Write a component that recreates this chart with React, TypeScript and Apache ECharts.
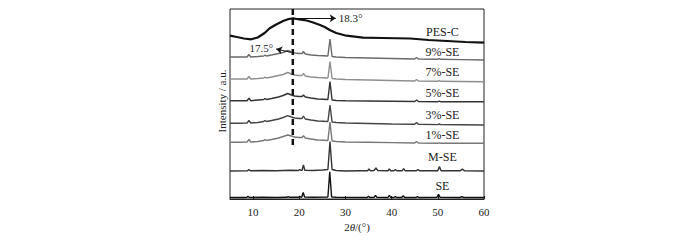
import React, { useEffect, useRef } from "react";
import * as echarts from "echarts";

// 2θ positions shared by the composite (x%-SE) patterns
const X_COMP = [5, 7, 8.7, 9.1, 9.5, 11, 12.3, 12.6, 12.9, 14, 15.5, 16.5, 17.5, 18.3, 19, 20, 20.6, 20.9, 21.3, 22.5, 24, 26.2, 26.65, 27.1, 28, 30, 35, 40, 45, 45.4, 45.8, 50, 50.3, 50.6, 55, 60];
const Y_9 = [142, 142, 142, 144.5, 142, 142.5, 143, 144, 143, 144, 145.5, 146.5, 148.5, 147, 146, 145.5, 145.5, 147.5, 145, 144, 143.5, 143, 160, 142.5, 142, 141.5, 141, 140.5, 140, 141.5, 140, 139.7, 140.3, 139.7, 139.4, 139];
const Y_7 = [120, 120, 120, 122.5, 120, 120.5, 121, 122, 121, 122, 123.5, 124.5, 126.5, 125, 124, 123.5, 123.5, 125.7, 123, 122, 121.5, 121, 137.3, 120.5, 120, 119.5, 119, 118.5, 118, 119.5, 118, 117.7, 118.3, 117.7, 117.5, 117.3];
const Y_5 = [98.3, 98.3, 98.3, 100.7, 98.3, 99, 99.5, 100.5, 99.5, 100.5, 102, 103.5, 105.5, 104, 103, 102.5, 102.5, 104, 102, 101, 100, 99.5, 117.3, 99, 98.5, 98.2, 98, 97.8, 97.5, 99, 97.5, 97.3, 97.8, 97.3, 97.3, 97.2];
const Y_3 = [75.7, 75.7, 76, 78.5, 76, 76.5, 77.5, 78.5, 77.5, 78.5, 80, 81.5, 83.3, 82, 81, 80.5, 80.5, 83, 80, 79, 78, 77.5, 94, 77, 76.5, 76, 75.5, 75, 74.7, 76.5, 74.7, 74.4, 75, 74.4, 74.2, 74];
const Y_1 = [56.7, 56.7, 57, 59.5, 57, 57.5, 58.5, 59.5, 58.5, 59.5, 61, 62.5, 64, 63, 62, 61.5, 61.5, 63.3, 61, 60, 59, 58.5, 77, 58, 57.5, 57, 56.7, 56.4, 56, 57.5, 56, 55.8, 56.2, 55.8, 55.7, 55.7];

// PES-C
const P_X = [5, 6.5, 8, 9.6, 11, 12.5, 13.6, 15, 16.5, 17.7, 18.7, 19.4, 20, 20.8, 21.6, 23, 24.5, 25.5, 26.6, 28, 30.2, 33.8, 38, 44, 48, 52, 56, 60];
const P_Y = [163.3, 162, 160.5, 159.7, 161.5, 166, 170.7, 174.5, 178, 180, 180.7, 180, 179.7, 179.2, 178.5, 176.5, 174, 172, 169, 166, 163.3, 161.3, 161, 160.5, 159, 158, 157, 156.3];

// M-SE
const M_X = [5, 8.8, 9.1, 9.4, 12, 15, 18, 19.8, 20.1, 20.4, 20.6, 20.9, 21.2, 23, 25, 26.2, 26.65, 27.1, 28, 30, 33, 34.8, 35.1, 35.4, 36.2, 36.6, 37, 39.2, 39.5, 39.8, 40.5, 40.8, 41.1, 42.3, 42.6, 42.9, 45.3, 45.7, 46.1, 50, 50.35, 50.7, 54.8, 55.3, 55.8, 60];
const M_Y = [28, 28.2, 29.5, 28.3, 28.5, 28.3, 28.8, 28.5, 29.5, 28.6, 28.8, 34, 28.8, 28.5, 29, 29.5, 57.5, 29.5, 28.5, 28, 28.2, 28.3, 30, 28.3, 28.5, 31, 28.5, 28.3, 30, 28.3, 28.3, 29.5, 28.3, 28.3, 30.5, 28.3, 28.2, 29.3, 28.2, 28.3, 32.5, 28.3, 28.2, 29.8, 28.2, 28];

// SE
const SE_X = [5, 8.6, 8.9, 9.2, 12, 15, 17.3, 17.6, 17.9, 19.8, 20.1, 20.35, 20.55, 20.85, 21.15, 23, 26.2, 26.6, 27, 28, 34.7, 35, 35.3, 36.2, 36.5, 36.8, 39.2, 39.5, 39.8, 40.5, 40.8, 41.1, 42.2, 42.5, 42.8, 45.3, 45.6, 45.9, 49.8, 50.15, 50.5, 54.8, 55.2, 55.6, 60];
const SE_Y = [1.5, 1.5, 2.8, 1.5, 1.7, 1.5, 1.7, 2.4, 1.7, 1.8, 2.8, 1.8, 2, 6.5, 2, 1.7, 2, 27.3, 2, 1.7, 1.5, 2.8, 1.5, 1.7, 3.7, 1.7, 1.5, 3.7, 1.5, 1.5, 2.4, 1.5, 1.5, 3.2, 1.5, 1.5, 2.4, 1.5, 1.7, 4.7, 1.7, 1.5, 2.4, 1.5, 1.5];

const X_TICKS = [10, 20, 30, 40, 50, 60];
const PEAK_SHIFT_X = 18.6; // dashed line 2θ
const DASH_Y = [190, 50];
const ANN_183 = { from: [18.6, 180.7], to: [27.9, 180.7], text: "18.3°" };
const ANN_175 = { from: [18.3, 146.5], to: [15.0, 150], text: "17.5°" };

const SERIF = "'Liberation Serif', 'DejaVu Serif', serif";

const zip = (xs: number[], ys: number[]) => xs.map((x, i) => [x, ys[i]]);

const SERIES_DEFS = [
  { name: "PES-C", data: zip(P_X, P_Y), color: "#111", width: 2.2, label: [51, 167.3] },
  { name: "9%-SE", data: zip(X_COMP, Y_9), color: "#6a6a6a", width: 1.4, label: [51, 147.3] },
  { name: "7%-SE", data: zip(X_COMP, Y_7), color: "#8e8e8e", width: 1.4, label: [51, 126.8] },
  { name: "5%-SE", data: zip(X_COMP, Y_5), color: "#333", width: 1.4, label: [51, 105.8] },
  { name: "3%-SE", data: zip(X_COMP, Y_3), color: "#444", width: 1.4, label: [51, 84] },
  { name: "1%-SE", data: zip(X_COMP, Y_1), color: "#777", width: 1.4, label: [51, 63.8] },
  { name: "M-SE", data: zip(M_X, M_Y), color: "#333", width: 1.4, label: [51, 42.3] },
  { name: "SE", data: zip(SE_X, SE_Y), color: "#111", width: 1.4, label: [51, 13] },
];

export default function App() {
  const ref = useRef<HTMLDivElement>(null);
  useEffect(() => {
    if (!ref.current) return;
    const chart = echarts.init(ref.current, null, { renderer: "svg" });
    const series: any[] = SERIES_DEFS.map((s) => ({
      type: "line",
      name: s.name,
      data: s.data,
      symbol: "none",
      silent: true,
      lineStyle: { color: s.color, width: s.width },
      emphasis: { disabled: true },
      markPoint: {
        silent: true,
        symbol: "circle",
        symbolSize: 0,
        data: [{ coord: s.label, value: s.name }],
        label: {
          show: true,
          position: "inside",
          formatter: s.name,
          color: "#222",
          fontSize: 12,
          fontFamily: SERIF,
        },
      },
    }));
    series.push({
      type: "line",
      name: "shift",
      data: [[PEAK_SHIFT_X, DASH_Y[0]], [PEAK_SHIFT_X, DASH_Y[1]]],
      symbol: "none",
      silent: true,
      lineStyle: { color: "#111", width: 2.5, type: [6, 4] },
      emphasis: { disabled: true },
      markLine: {
        silent: true,
        symbol: ["none", "arrow"],
        symbolSize: 6,
        lineStyle: { color: "#111", width: 1, type: "solid" },
        label: {
          show: true,
          position: "end",
          distance: 3,
          color: "#222",
          fontSize: 11,
          fontFamily: SERIF,
        },
        data: [
          [
            { coord: ANN_183.from },
            { coord: ANN_183.to, label: { formatter: ANN_183.text } },
          ],
          [
            { coord: ANN_175.from },
            { coord: ANN_175.to, label: { formatter: ANN_175.text } },
          ],
        ],
      },
    });
    chart.setOption({
      animation: false,
      backgroundColor: "#fff",
      grid: {
        left: 230,
        right: 216,
        top: 9,
        bottom: 41,
        show: true,
        borderColor: "#222",
        borderWidth: 1,
        backgroundColor: "transparent",
      },
      xAxis: {
        type: "value",
        min: 5,
        max: 60,
        interval: 10,
        axisLine: { show: true, lineStyle: { color: "#222", width: 1 } },
        axisTick: {
          show: true,
          inside: true,
          length: 3,
          lineStyle: { color: "#222" },
          customValues: X_TICKS,
        },
        axisLabel: {
          color: "#222",
          fontSize: 11,
          fontFamily: SERIF,
          margin: 7,
          customValues: X_TICKS,
        },
        splitLine: { show: false },
        name: "{n|2}{t|θ}{n|/(°)}",
        nameLocation: "middle",
        nameGap: 20,
        nameTextStyle: {
          rich: {
            n: { fontSize: 11, fontFamily: SERIF, color: "#222" },
            t: { fontSize: 11, fontFamily: SERIF, fontStyle: "italic", color: "#222" },
          },
        },
      },
      yAxis: {
        type: "value",
        min: 0,
        max: 190,
        axisLine: { show: false },
        axisTick: { show: false },
        axisLabel: { show: false },
        splitLine: { show: false },
        name: "Intensity / a.u.",
        nameLocation: "middle",
        nameGap: 3,
        nameTextStyle: {
          fontSize: 11,
          fontFamily: SERIF,
          color: "#222",
          padding: [0, 0, 0, 6],
        },
      },
      series,
    });
    return () => chart.dispose();
  }, []);
  return (
    <div
      ref={ref}
      style={{ position: "fixed", left: 0, top: 0, width: 700, height: 240, background: "#fff" }}
    />
  );
}
